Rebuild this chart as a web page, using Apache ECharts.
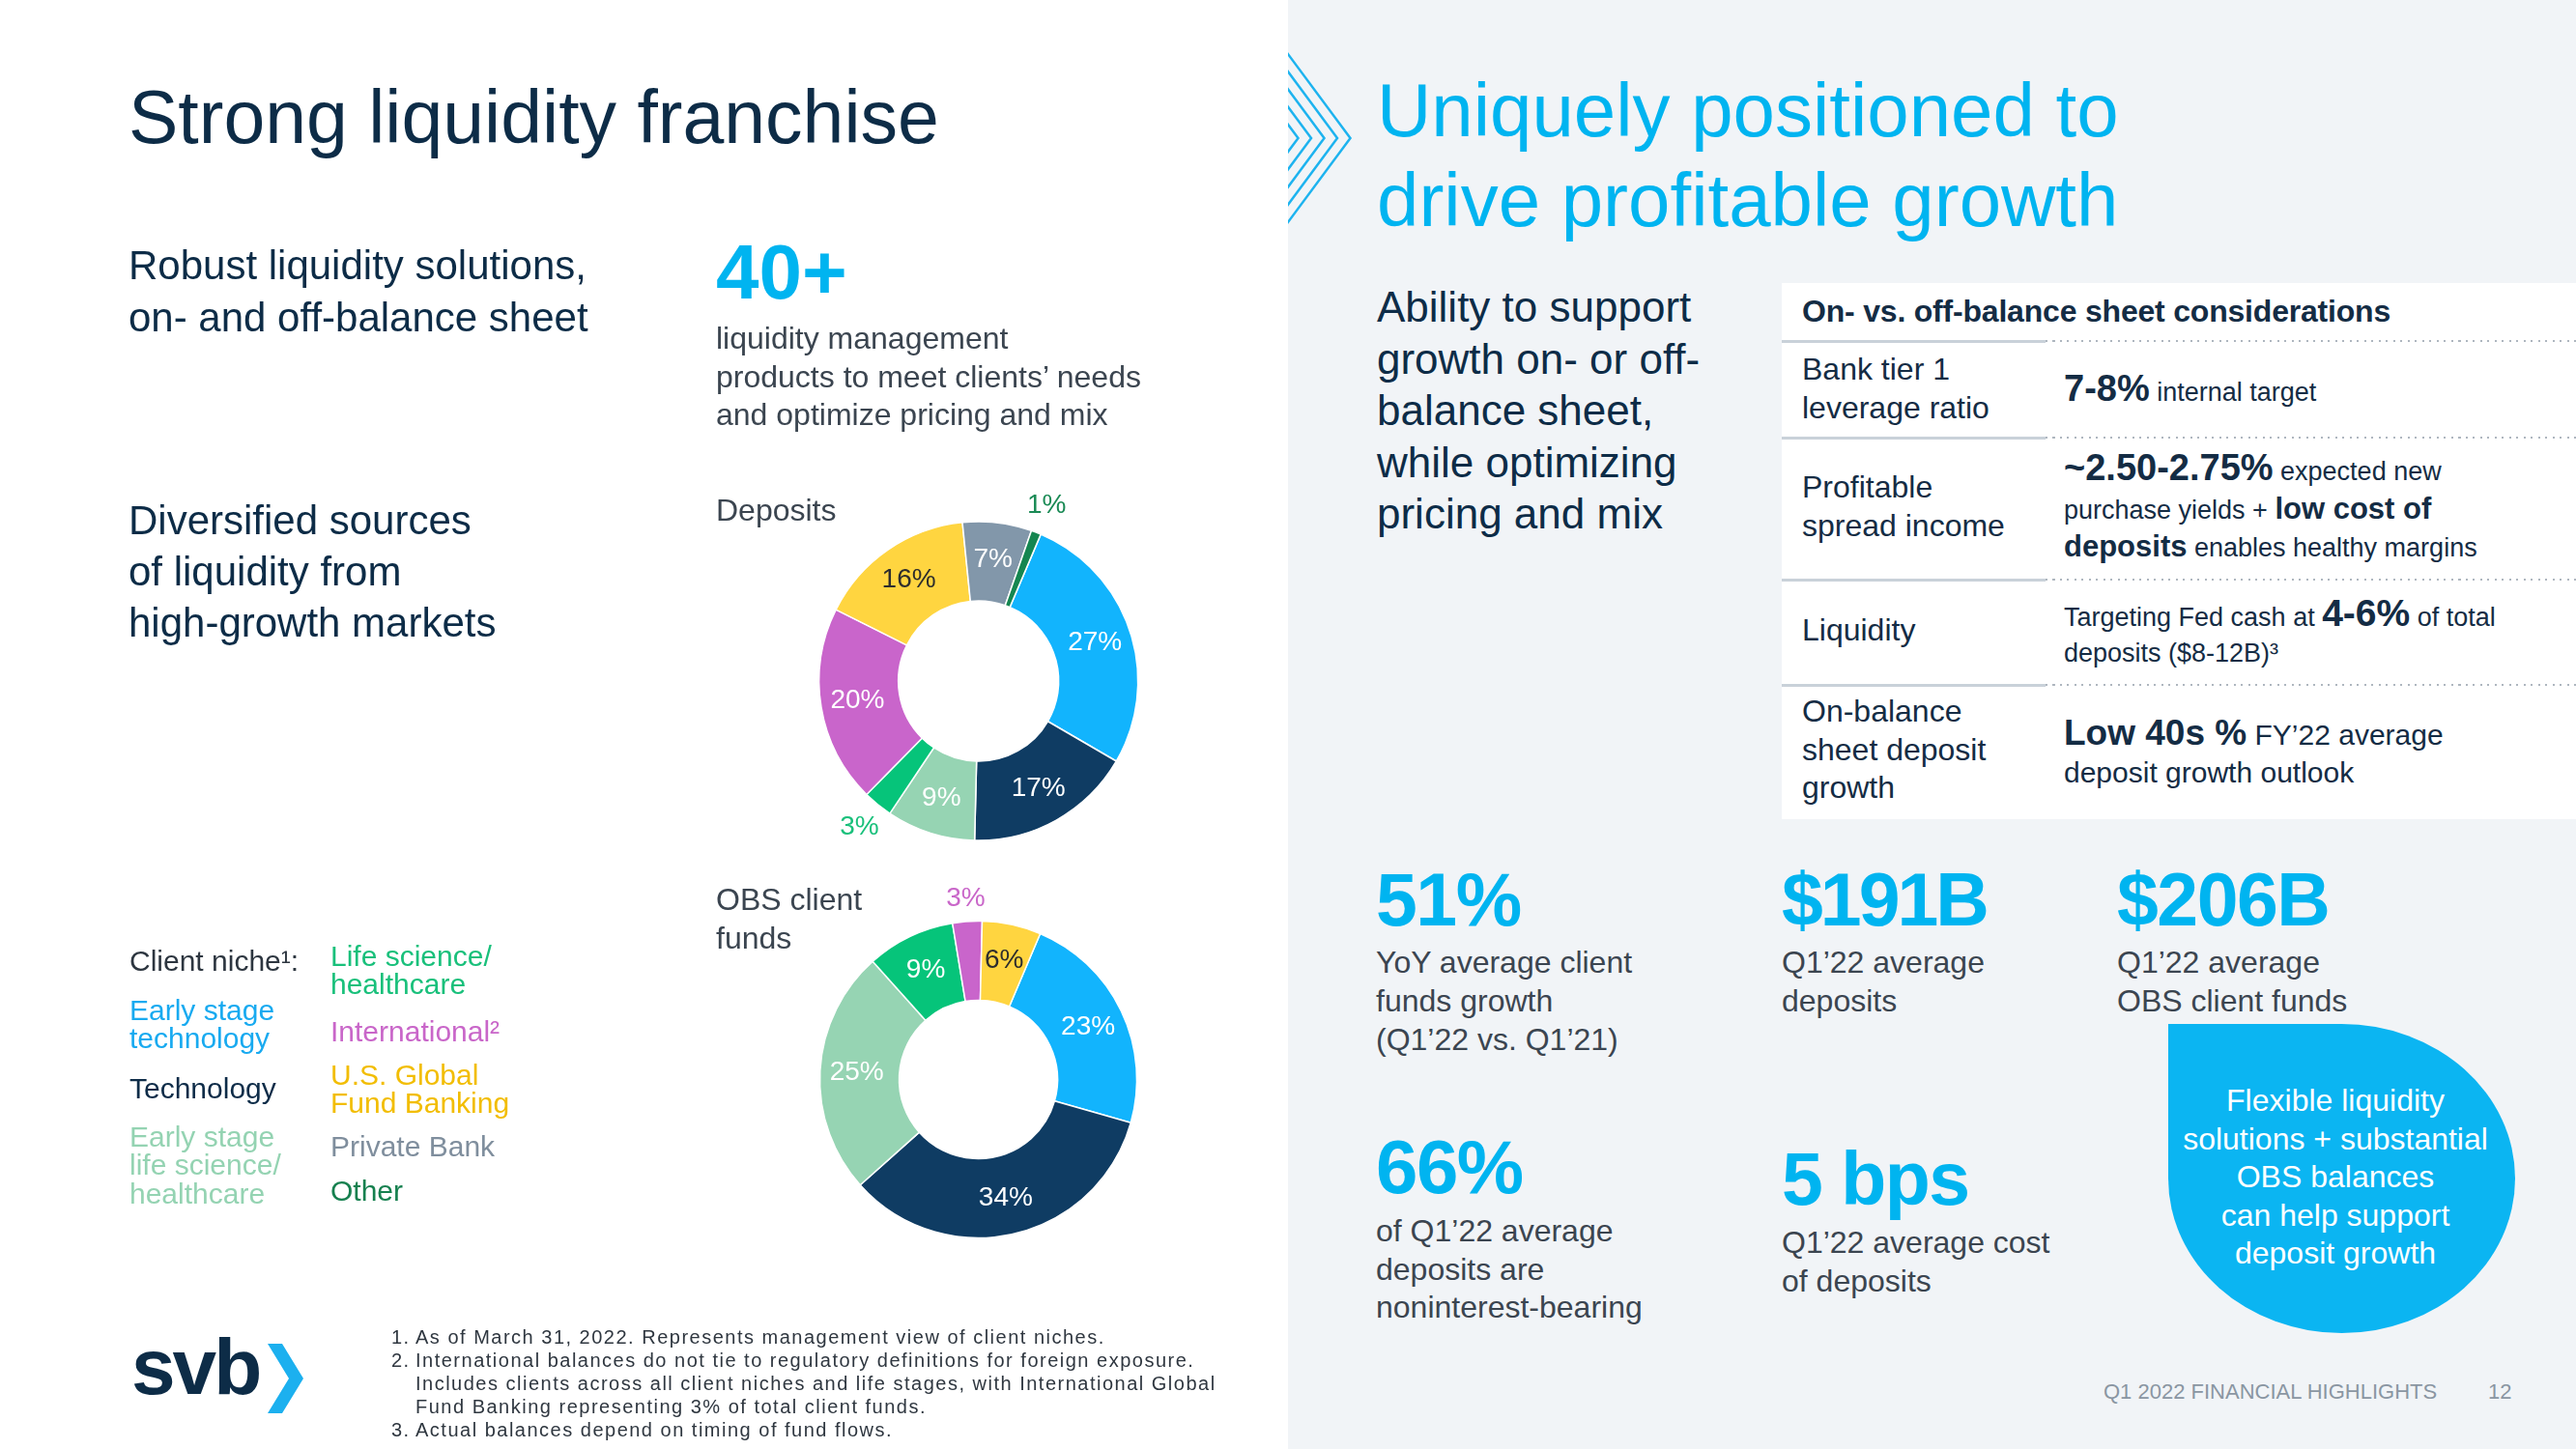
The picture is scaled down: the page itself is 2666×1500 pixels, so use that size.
<!DOCTYPE html>
<html><head><meta charset="utf-8">
<script src="https://cdn.jsdelivr.net/npm/echarts@6.0.0/dist/echarts.min.js"></script>
<style>
html,body{margin:0;padding:0;width:2666px;height:1500px;overflow:hidden;background:#fff;font-family:"Liberation Sans",Arial,sans-serif;position:relative;}
#rightbg{position:absolute;left:1333px;top:0;width:1333px;height:1500px;background:#f1f4f7;}
#chart{position:absolute;left:0;top:0;width:1333px;height:1500px;}
.t{position:absolute;white-space:nowrap;}
.box{position:absolute;}
</style></head>
<body>
<div id="rightbg"></div>
<div id="chart"></div>
<script>
// ---------------- DATA ----------------
const categories = ['Early stage technology','Technology','Early stage life science/healthcare','Life science/healthcare','International','U.S. Global Fund Banking','Private Bank','Other'];
const depositCategories = ['Early stage technology','Technology','Early stage life science/healthcare','Life science/healthcare','International','U.S. Global Fund Banking','Private Bank','Other'];
const depositValues = [27, 17, 9, 3, 20, 16, 7, 1];
const obsCategories = ['Early stage technology','Technology','Early stage life science/healthcare','Life science/healthcare','International','U.S. Global Fund Banking'];
const obsValues = [23, 34, 25, 9, 3, 6];
const legendLabels = ['Early stage<br>technology','Technology','Early stage<br>life science/<br>healthcare','Life science/<br>healthcare','International²','U.S. Global<br>Fund Banking','Private Bank','Other'];

// ---------------- STYLES ----------------
const FONT = '"Liberation Sans", Arial, sans-serif';
const sliceColors = {
  'Early stage technology':'#12b4fd','Technology':'#0f3c63','Early stage life science/healthcare':'#96d4b3',
  'Life science/healthcare':'#06c47a','International':'#c965cb','U.S. Global Fund Banking':'#ffd540',
  'Private Bank':'#8297aa','Other':'#158650'};
const textColors = {
  'Early stage technology':'#18aaf0','Technology':'#0e2c48','Early stage life science/healthcare':'#94d3b2',
  'Life science/healthcare':'#19c07b','International':'#c966c9','U.S. Global Fund Banking':'#f2bd00',
  'Private Bank':'#7f8e9d','Other':'#16804f'};
const darkLabelOn = ['U.S. Global Fund Banking'];

function donut(cats, vals, center, radius, ring) {
  const common = {type:'pie', center, startAngle:67, clockwise:true, avoidLabelOverlap:false,
    silent:true, animation:false, labelLine:{show:false}, emphasis:{disabled:true}};
  const main = Object.assign({}, common, {
    radius,
    itemStyle:{borderColor:'#ffffff', borderWidth:1.5},
    label:{position:'inside', formatter:'{c}%', fontSize:28, fontFamily:FONT},
    data: cats.map((c,i)=>({name:c, value:vals[i], itemStyle:{color:sliceColors[c]},
      label:{show: vals[i] >= 5, color: darkLabelOn.includes(c) ? '#2d2d2d' : '#ffffff'}}))
  });
  const outer = Object.assign({}, common, {
    radius: ring,
    itemStyle:{color:'rgba(0,0,0,0)', borderWidth:0},
    label:{position:'inside', formatter:'{c}%', fontSize:28, fontFamily:FONT},
    data: cats.map((c,i)=>({name:c, value:vals[i],
      label:{show: vals[i] < 5, color: c==='Other' ? '#1a8a55' : textColors[c]}}))
  });
  return [main, outer];
}

const chart = echarts.init(document.getElementById('chart'), null, {renderer:'canvas'});
chart.setOption({
  backgroundColor:'transparent',
  animation:false,
  series: [].concat(
    donut(depositCategories, depositValues, [1012.7, 705], [83, 165], [165, 219]),
    donut(obsCategories, obsValues, [1012.5, 1117.5], [82, 164], [164, 205])
  )
});

// ---------------- TEXT ----------------
const NAVY = '#0d2c47', GRAY = '#3b4550', CYAN = '#00b4f0', TAB = '#142c44';
function T(x, base, fs, lh, color, html, extra) {
  const d = document.createElement('div');
  d.className = 't';
  d.style.cssText = 'left:'+x+'px;top:'+(base - lh/2 - 0.3465*fs).toFixed(1)+'px;font-size:'+fs+'px;line-height:'+lh+'px;color:'+color+';'+(extra||'');
  d.innerHTML = html;
  document.body.appendChild(d);
  return d;
}
function B(x,y,w,h,style){ const d=document.createElement('div'); d.className='box'; d.style.cssText='left:'+x+'px;top:'+y+'px;width:'+w+'px;height:'+h+'px;'+style; document.body.appendChild(d); return d; }

// Left panel
T(133, 148, 77, 90, NAVY, 'Strong liquidity franchise');
T(133, 290, 42, 54, NAVY, 'Robust liquidity solutions,<br>on- and off-balance sheet');
T(133, 553, 42, 53, NAVY, 'Diversified sources<br>of liquidity from<br>high-growth markets');
T(741, 310, 80, 84, CYAN, '40+', 'font-weight:bold;');
T(741, 362, 32, 39.5, GRAY, 'liquidity management<br>products to meet clients’ needs<br>and optimize pricing and mix');
T(741, 539, 32, 40, GRAY, 'Deposits');
T(741, 942, 32, 40, GRAY, 'OBS client<br>funds');

// Legend
T(134, 1005, 30, 29.5, '#2d3640', 'Client niche¹:');
const legendPos = {
  'Early stage technology':[134,1056], 'Technology':[134,1137], 'Early stage life science/healthcare':[134,1187],
  'Life science/healthcare':[342,1000], 'International':[342,1078], 'U.S. Global Fund Banking':[342,1123],
  'Private Bank':[342,1197], 'Other':[342,1243]};
categories.forEach((c,i)=>{ const p = legendPos[c]; T(p[0], p[1], 30, 29.5, textColors[c], legendLabels[i]); });

// svb logo
T(136, 1443, 82, 90, NAVY, 'svb', 'font-weight:bold;letter-spacing:-3px;');
document.body.insertAdjacentHTML('beforeend',
 '<svg style="position:absolute;left:0;top:0" width="1333" height="1500"><polygon points="277,1391 292,1391 314,1427 292,1463 277,1463 299,1427" fill="#1cb0ef"/></svg>');

// Footnotes
const FN = '#2f3740', FNS = 'letter-spacing:1.5px;';
T(405, 1391, 20, 24, FN, '1.', FNS); T(430, 1391, 20, 24, FN, 'As of March 31, 2022. Represents management view of client niches.', FNS);
T(405, 1415, 20, 24, FN, '2.', FNS); T(430, 1415, 20, 24, FN, 'International balances do not tie to regulatory definitions for foreign exposure.<br>Includes clients across all client niches and life stages, with International Global<br>Fund Banking representing 3% of total client funds.', FNS);
T(405, 1487, 20, 24, FN, '3.', FNS); T(430, 1487, 20, 24, FN, 'Actual balances depend on timing of fund flows.', FNS);

// Right panel chevrons
(function(){
  let s = '<svg style="position:absolute;left:1333px;top:0" width="120" height="300"><g fill="none" stroke="#1db3ef" stroke-width="2.5">';
  [64.5, 51, 37.5, 24, 10.5].forEach(tx=>{
    s += '<polyline points="'+(tx-120)+','+(143-120*1.349)+' '+tx+',143 '+(tx-120)+','+(143+120*1.349)+'"/>';
  });
  s += '</g></svg>';
  document.body.insertAdjacentHTML('beforeend', s);
})();

T(1425, 141, 78, 93, CYAN, 'Uniquely positioned to<br>drive profitable growth');
T(1425, 333, 44, 53.5, NAVY, 'Ability to support<br>growth on- or off-<br>balance sheet,<br>while optimizing<br>pricing and mix');

// Table
B(1844, 293, 822, 555, 'background:#ffffff;');
T(1865, 333, 32, 40, TAB, 'On- vs. off-balance sheet considerations', 'font-weight:bold;letter-spacing:-0.2px;');
[353, 453, 600, 709].forEach(y=>{
  B(1844, y-1.5, 273, 3.5, 'background:#c9d1d9;');
  B(2117, y-1, 549, 2, 'background:repeating-linear-gradient(90deg,#aeb6bf 0 2px,transparent 2px 7.5px);');
});
T(1865, 393, 32, 40, TAB, 'Bank tier 1<br>leverage ratio');
T(1865, 515, 32, 40, TAB, 'Profitable<br>spread income');
T(1865, 663, 32, 40, TAB, 'Liquidity');
T(1865, 748, 32, 39.5, TAB, 'On-balance<br>sheet deposit<br>growth');
const sm = s => '<span style="font-size:27px">'+s+'</span>';
T(2136, 415, 38, 40, TAB, '<b>7-8%</b>'+sm(' internal target'));
T(2136, 497, 38, 40, TAB, '<b>~2.50-2.75%</b>'+sm(' expected new'));
T(2136, 538, 31, 40, TAB, sm('purchase yields + ')+'<b>low cost of</b>');
T(2136, 577, 31, 40, TAB, '<b>deposits</b>'+sm(' enables healthy margins'));
T(2136, 648, 39, 40, TAB, sm('Targeting Fed cash at ')+'<b>4-6%</b>'+sm(' of total'));
T(2136, 685, 27, 40, TAB, 'deposits ($8-12B)³');
T(2136, 772, 37, 40, TAB, '<b>Low 40s %</b><span style="font-size:30px"> FY’22 average</span>');
T(2136, 810, 30, 40, TAB, 'deposit growth outlook');

// Stats
const big = 'font-weight:bold;letter-spacing:-1.5px;';
T(1424, 958, 77, 80, CYAN, '51%', big);
T(1844, 958, 77, 80, CYAN, '$191B', 'font-weight:bold;letter-spacing:-3px;');
T(2191, 958, 77, 80, CYAN, '$206B', big);
T(1424, 1008, 32, 39.7, GRAY, 'YoY average client<br>funds growth<br>(Q1’22 vs. Q1’21)');
T(1844, 1008, 32, 39.7, GRAY, 'Q1’22 average<br>deposits');
T(2191, 1008, 32, 39.7, GRAY, 'Q1’22 average<br>OBS client funds');
T(1424, 1235, 78, 80, CYAN, '66%', big);
T(1844, 1247, 77, 80, CYAN, '5 bps', big);
T(1424, 1286, 32, 39.5, GRAY, 'of Q1’22 average<br>deposits are<br>noninterest-bearing');
T(1844, 1298, 32, 39.5, GRAY, 'Q1’22 average cost<br>of deposits');

// Blob
B(2244, 1060, 359, 320, 'background:#0bb5f2;border-radius:0 50% 50% 50%;');
T(2167, 1151, 32, 39.6, '#ffffff', 'Flexible liquidity<br>solutions + substantial<br>OBS balances<br>can help support<br>deposit growth', 'width:500px;text-align:center;');

// Footer
T(2177, 1449, 22, 30, '#8a96a2', 'Q1 2022 FINANCIAL HIGHLIGHTS');
T(2575, 1449, 22, 30, '#8a96a2', '12');
</script>
</body></html>
